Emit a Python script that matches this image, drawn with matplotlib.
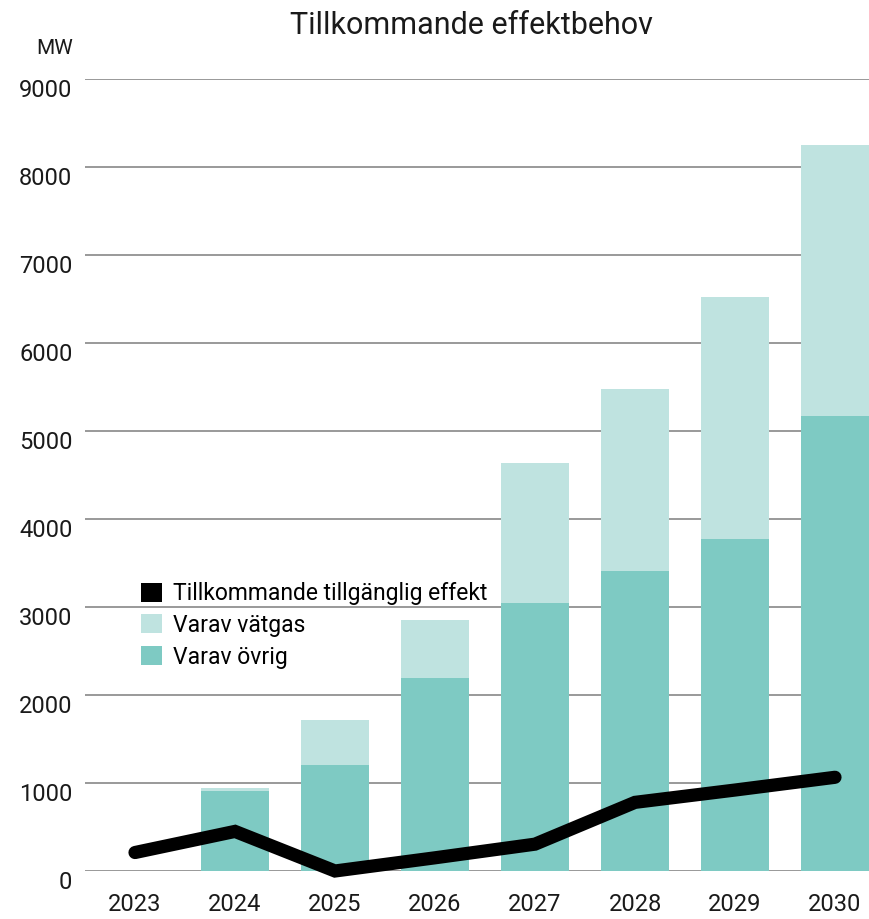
import matplotlib.pyplot as plt
import numpy as np
from matplotlib.patches import Patch

plt.rcParams['font.family'] = ['Roboto', 'DejaVu Sans']

years = ["2023", "2024", "2025", "2026", "2027", "2028", "2029", "2030"]
ovrig = [0, 910, 1205, 2190, 3045, 3410, 3775, 5170]
vatgas = [0, 35, 510, 660, 1590, 2070, 2750, 3080]
tillganglig = [210, 450, 0, 150, 305, 780, 920, 1065]

c_ovrig = "#7ecac3"
c_vatgas = "#bfe3e0"

fig = plt.figure(figsize=(8.7, 9.19), dpi=100)
ax = fig.add_axes([85 / 870, 1 - 871 / 919, 1 - 85 / 870, (871 - 79) / 919])

x = np.arange(len(years))
ax.bar(x, ovrig, width=0.68, color=c_ovrig, zorder=2)
ax.bar(x, vatgas, width=0.68, bottom=ovrig, color=c_vatgas, zorder=2)
ax.plot(x, tillganglig, color="black", linewidth=9.5, solid_capstyle="round",
        solid_joinstyle="miter", zorder=3, clip_on=False)

ax.set_xlim(-0.5, 7.35)
ax.set_ylim(0, 9000)
ax.set_yticks(np.arange(0, 9001, 1000))
ax.set_xticks(x)
ax.set_xticklabels(years)
ax.yaxis.grid(True, color="#888888", linewidth=1.2, zorder=0)
ax.set_axisbelow(True)
for s in ax.spines.values():
    s.set_visible(False)
ax.tick_params(length=0, labelsize=17, colors="#1a1a1a")
ax.tick_params(axis="y", pad=9)
ax.tick_params(axis="x", pad=16)
for lbl in ax.get_yticklabels():
    lbl.set_verticalalignment("top")

fig.text(471 / 870, 1 - 25 / 919, "Tillkommande effektbehov", ha="center", va="center",
         fontsize=22, color="#1a1a1a")
fig.text(73 / 870, 1 - 49 / 919, "MW", ha="right", va="center", fontsize=15,
         color="#1a1a1a")

handles = [Patch(facecolor="black"), Patch(facecolor=c_vatgas), Patch(facecolor=c_ovrig)]
labels = ["Tillkommande tillgänglig effekt", "Varav vätgas", "Varav övrig"]
fig.legend(handles, labels, loc="upper left", bbox_to_anchor=(132 / 870, 1 - 573 / 919),
           frameon=False, fontsize=16.5, handlelength=0.9, handleheight=0.9,
           handletextpad=0.5, labelspacing=0.38, borderaxespad=0)

plt.savefig("out.png", dpi=100)
